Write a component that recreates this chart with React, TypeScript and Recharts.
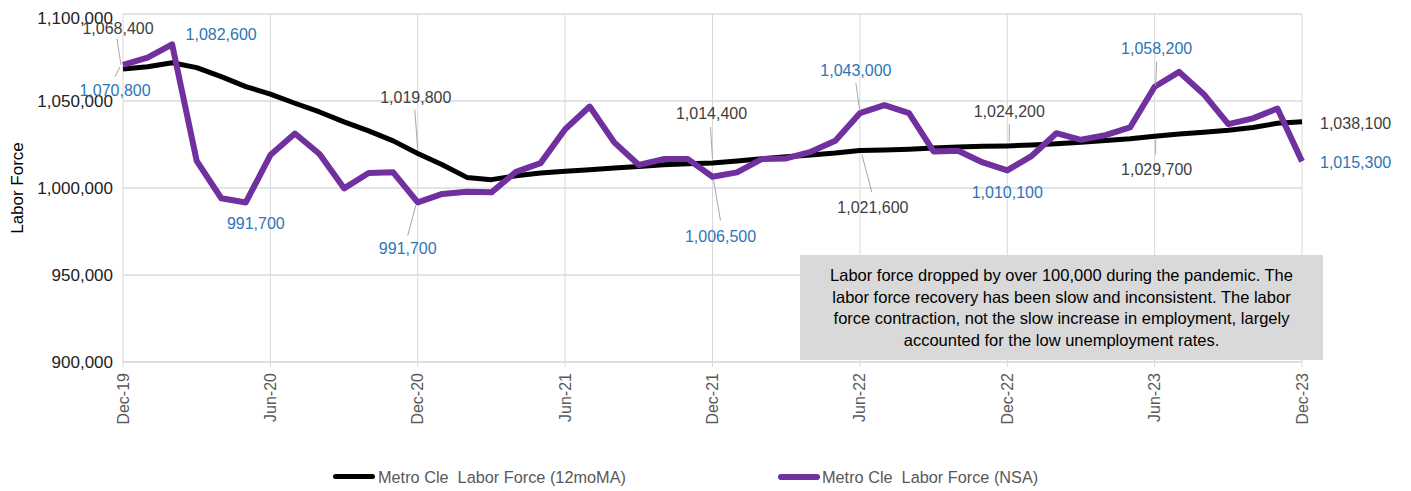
import React from "react"
import {
  LineChart,
  Line,
  XAxis,
  YAxis,
  CartesianGrid,
  ReferenceLine,
  LabelList,
} from "recharts"

const months = [
  "Dec-19",
  "Jan-20", "Feb-20", "Mar-20", "Apr-20", "May-20", "Jun-20", "Jul-20", "Aug-20", "Sep-20", "Oct-20", "Nov-20", "Dec-20",
  "Jan-21", "Feb-21", "Mar-21", "Apr-21", "May-21", "Jun-21", "Jul-21", "Aug-21", "Sep-21", "Oct-21", "Nov-21", "Dec-21",
  "Jan-22", "Feb-22", "Mar-22", "Apr-22", "May-22", "Jun-22", "Jul-22", "Aug-22", "Sep-22", "Oct-22", "Nov-22", "Dec-22",
  "Jan-23", "Feb-23", "Mar-23", "Apr-23", "May-23", "Jun-23", "Jul-23", "Aug-23", "Sep-23", "Oct-23", "Nov-23", "Dec-23",
]

// 12-month moving average
const laborForceMA = [
  1068400, 1069700, 1072000, 1069200, 1064000, 1058300, 1053900, 1048700, 1043700, 1038000, 1032800, 1027100, 1019800,
  1013400, 1006100, 1004800, 1007000, 1008600, 1009600, 1010500, 1011500, 1012400, 1013400, 1013900, 1014400,
  1015500, 1016800, 1017900, 1019000, 1020100, 1021600, 1021800, 1022300, 1023000, 1023600, 1024000, 1024200,
  1024700, 1025400, 1026300, 1027300, 1028300, 1029700, 1031000, 1032100, 1033200, 1034800, 1037200, 1038100,
]

// not seasonally adjusted
const laborForceNSA = [
  1070800, 1074900, 1082600, 1015600, 994100, 991700, 1018900, 1031300, 1019500, 999800, 1008600, 1009000, 991700,
  996600, 997900, 997500, 1009300, 1014300, 1033800, 1046800, 1026200, 1013200, 1016600, 1016600, 1006500,
  1009000, 1016600, 1017000, 1020800, 1027100, 1043000, 1047600, 1043000, 1021000, 1021400, 1014700, 1010100,
  1018500, 1031500, 1027700, 1030400, 1034800, 1058200, 1066700, 1053900, 1036700, 1040000, 1045700, 1015300,
]

const yTicks = [900000, 950000, 1000000, 1050000, 1100000]
const gridMonths = ["Dec-19", "Jun-20", "Dec-20", "Jun-21", "Dec-21", "Jun-22", "Dec-22", "Jun-23", "Dec-23"]

const seriesMA = "Metro Cle  Labor Force (12moMA)"
const seriesNSA = "Metro Cle  Labor Force (NSA)"
const note = [
  "Labor force dropped by over 100,000 during the pandemic. The",
  "labor force recovery has been slow and inconsistent. The labor",
  "force contraction, not the slow increase in employment, largely",
  "accounted for the low unemployment rates.",
]

const data = months.map((m, i) => ({ month: m, ma: laborForceMA[i], nsa: laborForceNSA[i] }))

const FONT = "'Liberation Sans', Arial, sans-serif"
const fmt = (v: number) => v.toLocaleString("en-US")

type LabelPos = { dx: number; dy: number; anchor?: "start" | "middle"; lead?: [number, number, number, number] }

// label offsets relative to the point, per index
const maLabels: Record<number, LabelPos> = {
  0: { dx: -5, dy: -40, lead: [-6, -30, -2, -4] },
  12: { dx: -2, dy: -56, lead: [-3, -44, 0, -4] },
  24: { dx: -1, dy: -49, lead: [-2, -36, 0, -4] },
  30: { dx: 13, dy: 57, lead: [12, 42, 2, 4] },
  36: { dx: 2, dy: -34, lead: [2, -22, 2, -4] },
  42: { dx: 2, dy: 33, lead: [1, 18, 1, 3] },
  48: { dx: 18, dy: 2, anchor: "start" },
}

const nsaLabels: Record<number, LabelPos> = {
  0: { dx: -8, dy: 26, lead: [-8, 12, -3, 2] },
  2: { dx: 49, dy: -10 },
  5: { dx: 10, dy: 21 },
  12: { dx: -10, dy: 46, lead: [-10, 33, -2, 3] },
  24: { dx: 8, dy: 60, lead: [8, 44, 1, 3] },
  30: { dx: -4, dy: -43, lead: [-4, -30, 0, -2] },
  36: { dx: 0, dy: 22 },
  42: { dx: 2, dy: -38, lead: [2, -25, 1, -1] },
  48: { dx: 18, dy: 1, anchor: "start" },
}

function makeLabel(cfg: Record<number, LabelPos>, color: string) {
  return (props: any) => {
    const { x, y, index, value } = props
    const c = cfg[index]
    if (!c || x == null || y == null) return null
    return (
      <g key={`lbl-${color}-${index}`}>
        {c.lead && (
          <line
            x1={x + c.lead[0]}
            y1={y + c.lead[1]}
            x2={x + c.lead[2]}
            y2={y + c.lead[3]}
            stroke="#a6a6a6"
            strokeWidth={1}
          />
        )}
        <text
          x={x + c.dx}
          y={y + c.dy}
          textAnchor={c.anchor || "middle"}
          dominantBaseline="central"
          fontFamily={FONT}
          fontSize={16}
          fill={color}
        >
          {fmt(Number(value))}
        </text>
      </g>
    )
  }
}

function XTick({ x, y, payload }: any) {
  return (
    <g transform={`translate(${x},${y})`}>
      <text
        transform="rotate(-90)"
        x={-6}
        y={0}
        dy={5.5}
        textAnchor="end"
        fontFamily={FONT}
        fontSize={16}
        fill="#595959"
      >
        {payload.value}
      </text>
    </g>
  )
}

export default function App() {
  return (
    <div style={{ position: "relative", width: 1395, height: 483, fontFamily: FONT }}>
      <LineChart width={1395} height={475} data={data} margin={{ top: 6, right: 101, bottom: 0, left: 0 }}>
        <CartesianGrid vertical={false} stroke="#c8c8c8" />
        {gridMonths.map((m) => (
          <ReferenceLine key={m} x={m} stroke="#d9d9d9" strokeWidth={1} />
        ))}
        <XAxis
          dataKey="month"
          interval={5}
          height={121}
          tick={<XTick />}
          tickSize={5}
          tickMargin={0}
          axisLine={{ stroke: "#d9d9d9" }}
          tickLine={{ stroke: "#d9d9d9" }}
        />
        <YAxis
          domain={[900000, 1100000]}
          ticks={yTicks}
          tickFormatter={fmt}
          width={115}
          axisLine={false}
          tickLine={false}
          tickSize={0}
          tickMargin={10}
          tick={{ fontSize: 17, fill: "#222", fontFamily: FONT }}
          label={{
            content: (p: any) => {
              const vb = p.viewBox
              const cy = vb.y + vb.height / 2
              return (
                <text
                  x={9.5}
                  y={cy}
                  transform={`rotate(-90, 9.5, ${cy})`}
                  textAnchor="middle"
                  dominantBaseline="central"
                  fontFamily={FONT}
                  fontSize={17}
                  fill="#000"
                >
                  Labor Force
                </text>
              )
            },
          }}
        />
        <Line
          type="linear"
          dataKey="ma"
          name={seriesMA}
          stroke="#000000"
          strokeWidth={5}
          dot={false}
          strokeLinejoin="round"
          isAnimationActive={false}
        >
          <LabelList dataKey="ma" content={makeLabel(maLabels, "#404040")} />
        </Line>
        <Line
          type="linear"
          dataKey="nsa"
          name={seriesNSA}
          stroke="#7030a0"
          strokeWidth={6}
          dot={false}
          strokeLinejoin="round"
          isAnimationActive={false}
        >
          <LabelList dataKey="nsa" content={makeLabel(nsaLabels, "#2e75b6")} />
        </Line>
      </LineChart>

      <div
        style={{
          position: "absolute",
          left: 792,
          top: 247,
          width: 523,
          height: 105,
          background: "#d9d9d9",
          boxSizing: "border-box",
          paddingTop: 10,
          textAlign: "center",
          fontSize: 16.5,
          lineHeight: "21.7px",
          color: "#000",
          whiteSpace: "nowrap",
        }}
      >
        {note.map((l) => (
          <div key={l}>{l}</div>
        ))}
      </div>

      <div style={{ position: "absolute", left: 0, top: 459, width: 1395, height: 20, fontSize: 16.3, color: "#595959" }}>
        <div style={{ position: "absolute", left: 325, top: 7, width: 42, height: 5, borderRadius: 3, background: "#000" }} />
        <div style={{ position: "absolute", left: 370, top: 0, whiteSpace: "pre", lineHeight: "20px" }}>{seriesMA}</div>
        <div style={{ position: "absolute", left: 770, top: 7, width: 42, height: 6, borderRadius: 3, background: "#7030a0" }} />
        <div style={{ position: "absolute", left: 814, top: 0, whiteSpace: "pre", lineHeight: "20px" }}>{seriesNSA}</div>
      </div>
    </div>
  )
}
